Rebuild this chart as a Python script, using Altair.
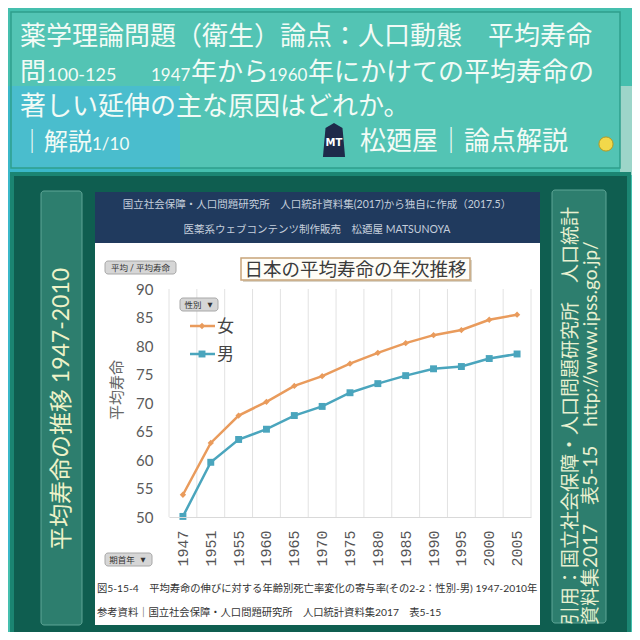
import altair as alt
import pandas as pd

# ---------------- data ----------------
years = ["1947", "1951", "1955", "1960", "1965", "1970", "1975",
         "1980", "1985", "1990", "1995", "2000", "2005"]
female = [53.9, 63.0, 67.8, 70.2, 73.0, 74.7, 76.9, 78.8, 80.5, 81.9, 82.8, 84.6, 85.5]
male = [50.1, 59.6, 63.6, 65.4, 67.8, 69.4, 71.8, 73.4, 74.8, 76.0, 76.4, 77.8, 78.6]
series = ["女", "男"]
y_ticks = [50, 55, 60, 65, 70, 75, 80, 85, 90]

colors = ["#e99b5c", "#4aa5bd"]
JP = "Lato, Noto Sans CJK JP, sans-serif"
O = 8  # page margin offset

df = pd.DataFrame({
    "year": years * 2,
    "sex": ["女"] * len(years) + ["男"] * len(years),
    "value": female + male,
})
grid_df = pd.DataFrame({"year": years})
ONE = pd.DataFrame({"k": [0]})


def R(x0, y0, x1, y1, **kw):
    return alt.Chart(ONE).mark_rect(**kw).encode(
        x=alt.value(x0 - O), x2=alt.value(x1 - O),
        y=alt.value(y0 - O), y2=alt.value(y1 - O))


def T(x, y, text, size=12, color="#333", align="left", baseline="middle", font=JP, **kw):
    return alt.Chart(ONE).mark_text(
        text=text, fontSize=size, color=color, align=align,
        baseline=baseline, font=font, **kw).encode(
        x=alt.value(x - O), y=alt.value(y - O))


# ---------------- scales / axes ----------------
PL, PR, PT, PB = 169, 531, 289, 517
xs = alt.Scale(type="band", domain=years, range=[PL - O, PR - O],
               paddingInner=0, paddingOuter=0)
ys = alt.Scale(domain=[50, 90], range=[PB - O, PT - O])
cs = alt.Scale(domain=series, range=colors)
x_axis = alt.Axis(labelAngle=270, labelFont="Liberation Mono",
                  labelFontSize=15, labelColor="#555555", ticks=False,
                  domain=True, domainColor="#d9d9d9", grid=False,
                  offset=(PB - O) - 624, labelPadding=13, title=None, zindex=1)
y_axis = alt.Axis(values=y_ticks, domain=False, ticks=False, grid=False,
                  labelFont="Lato", labelFontSize=15, labelColor="#5a5a5a",
                  offset=-(PL - O), labelPadding=16, title=None, zindex=1)

layers = []
W = "#f2fbf6"

# ---------------- background / decoration ----------------
layers += [
    R(-10, 86, 180, 560, color="#3bb8c9"),
    R(620, 86, 650, 175, color="#9dd5c9"),
    R(11, 12, 620, 168, color="#ffffff", fillOpacity=0.08,
      stroke="#2f9e8c", strokeWidth=1.5),
    # header text
    T(20, 45, "薬学理論問題（衛生）論点：人口動態　平均寿命", size=26,
      color=W, baseline="alphabetic"),
    T(20, 81, "問", size=26, color=W, baseline="alphabetic"),
    T(47, 81, "100-125", size=18, color=W, baseline="alphabetic"),
    T(151, 81, "1947", size=17, color=W, baseline="alphabetic"),
    T(191, 81, "年から", size=26, color=W, baseline="alphabetic"),
    T(268, 81, "1960", size=17, color=W, baseline="alphabetic"),
    T(308, 81, "年にかけての平均寿命の", size=26, color=W, baseline="alphabetic"),
    T(20, 115, "著しい延伸の主な原因はどれか。", size=26, color=W,
      baseline="alphabetic"),
    T(20, 150, "｜解説", size=24, color=W, baseline="alphabetic"),
    T(92, 150, "1/10", size=17, color=W, baseline="alphabetic"),
    T(360, 150, "松廼屋｜論点解説", size=26, color=W, baseline="alphabetic"),
    alt.Chart(ONE).mark_point(
        shape="M-0.5,-0.7L0,-1L0.5,-0.7L0.65,1L-0.65,1Z", size=1156,
        filled=True, color="#1e2a4a", opacity=1).encode(
        x=alt.value(334 - O), y=alt.value(140 - O)),
    T(334, 143, "MT", size=10, color="#ffffff", align="center", font="DejaVu Sans",
      fontWeight="bold"),
    alt.Chart(ONE).mark_circle(size=200, color="#f2d84a", opacity=1,
                               stroke="#b89a20", strokeWidth=1).encode(
        x=alt.value(606 - O), y=alt.value(144 - O)),
    # frame
    R(10, 172, 631, 640, color="#1b8572"),
    R(14, 176, 627, 634, color="#0f5e50"),
    R(41, 191, 82, 625, color="#2d7e6e", stroke="#5fa596", strokeWidth=1,
      cornerRadius=3),
    R(552, 190, 606, 623, color="#2d7e6e", stroke="#5fa596", strokeWidth=1,
      cornerRadius=3),
    T(62, 409, "平均寿命の推移 1947-2010", size=23, color="#eef2c8",
      align="center", angle=270),
    T(571, 625, "引用：国立社会保障・人口問題研究所　人口統計", size=19,
      color="#e8f0d0", angle=270),
    T(591, 625, "資料集2017　表5-15　http://www.ipss.go.jp/", size=19,
      color="#e8f0d0", angle=270),
    # chart image panel
    R(95, 192, 540, 625, color="#ffffff"),
    R(95, 192, 540, 243, color="#203a5e"),
    T(317, 205, "国立社会保障・人口問題研究所　人口統計資料集(2017)から独自に作成（2017.5）",
      size=10.5, color="#c5cfdc", align="center"),
    T(317, 230, "医薬系ウェブコンテンツ制作販売　松廼屋 MATSUNOYA", size=10.5,
      color="#c5cfdc", align="center"),
    R(105, 261, 176, 274, color="#d6d6d6", stroke="#a8a8a8", strokeWidth=1,
      cornerRadius=3),
    T(140.5, 268, "平均 / 平均寿命", size=8.5, color="#333", align="center"),
    R(243, 260, 472, 282, color="#d9d4c8"),
    R(241, 258, 470, 280, color="#fffdf7", stroke="#c8a47a", strokeWidth=1.5),
    T(355.5, 269.5, "日本の平均寿命の年次推移", size=18.5, color="#3b3b3b",
      align="center"),
    T(117, 390, "平均寿命", size=15, color="#666666", align="center", angle=270),
    T(97, 589, "図5-15-4　平均寿命の伸びに対する年齢別死亡率変化の寄与率(その2-2：性別-男) 1947-2010年",
      size=10.3, color="#333333"),
    T(97, 613, "参考資料｜国立社会保障・人口問題研究所　人口統計資料集2017　表5-15",
      size=10.3, color="#333333"),
]

# ---------------- data-driven plot ----------------
grid = alt.Chart(grid_df).mark_rule(color="#e2e2e2", strokeWidth=1).encode(
    x=alt.X("year:O", scale=xs, bandPosition=0, axis=x_axis),
    y=alt.value(PT - O), y2=alt.value(PB - O))
grid_end = alt.Chart(grid_df.tail(1)).mark_rule(color="#e2e2e2", strokeWidth=1).encode(
    x=alt.X("year:O", scale=xs, bandPosition=1, axis=x_axis),
    y=alt.value(PT - O), y2=alt.value(PB - O))

lines = alt.Chart(df).mark_line(strokeWidth=2.5).encode(
    x=alt.X("year:O", scale=xs, bandPosition=0.5, axis=x_axis),
    y=alt.Y("value:Q", scale=ys, axis=y_axis),
    color=alt.Color("sex:N", scale=cs, legend=None),
    detail="sex:N",
)
points = alt.Chart(df).mark_point(filled=True, opacity=1).encode(
    x=alt.X("year:O", scale=xs, bandPosition=0.5, axis=x_axis),
    y=alt.Y("value:Q", scale=ys, axis=y_axis),
    color=alt.Color("sex:N", scale=cs, legend=None),
    shape=alt.Shape("sex:N", scale=alt.Scale(domain=series, range=["diamond", "square"]),
                    legend=None),
    size=alt.Size("sex:N", scale=alt.Scale(domain=series, range=[40, 48]), legend=None),
)

# legend (manual) + buttons
legend_layers = [
    R(180, 298, 218, 311, color="#d6d6d6", stroke="#a8a8a8", strokeWidth=1,
      cornerRadius=3),
    T(193, 304.5, "性別", size=8.5, color="#333", align="center"),
    T(210, 304.5, "▼", size=6.5, color="#333", align="center", font="DejaVu Sans"),
    alt.Chart(ONE).mark_rule(color=colors[0], strokeWidth=2.5).encode(
        x=alt.value(190 - O), x2=alt.value(215 - O), y=alt.value(326 - O)),
    alt.Chart(ONE).mark_point(shape="diamond", filled=True, size=40, color=colors[0],
                              opacity=1).encode(
        x=alt.value(202 - O), y=alt.value(326 - O)),
    T(217, 327, "女", size=17, color="#444444"),
    alt.Chart(ONE).mark_rule(color=colors[1], strokeWidth=2.5).encode(
        x=alt.value(190 - O), x2=alt.value(215 - O), y=alt.value(354 - O)),
    alt.Chart(ONE).mark_point(shape="square", filled=True, size=48, color=colors[1],
                              opacity=1).encode(
        x=alt.value(202 - O), y=alt.value(354 - O)),
    T(217, 355, "男", size=17, color="#444444"),
    R(105, 553, 152, 566, color="#d6d6d6", stroke="#a8a8a8", strokeWidth=1,
      cornerRadius=3),
    T(122, 559.5, "期首年", size=8.5, color="#333", align="center"),
    T(143, 559.5, "▼", size=6.5, color="#333", align="center", font="DejaVu Sans"),
]

chart = alt.layer(*layers, grid, grid_end, lines, points, *legend_layers).properties(
    width=624, height=624, background="#45bfae", padding=0,
    autosize=alt.AutoSizeParams(type="none"),
).configure_view(stroke=None)

chart.save("out.html", embed_options={"renderer": "svg", "actions": False})
